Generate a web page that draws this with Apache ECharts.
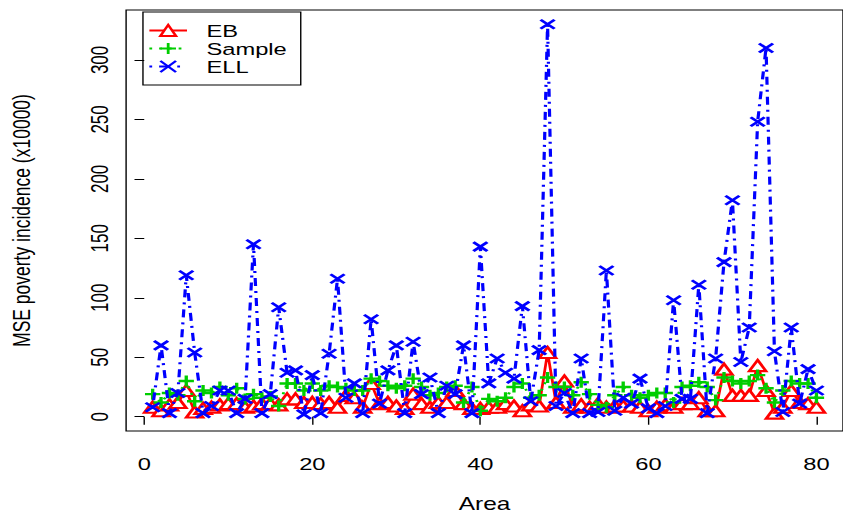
<!DOCTYPE html>
<html>
<head>
<meta charset="utf-8">
<script src="https://cdn.jsdelivr.net/npm/echarts@6/dist/echarts.min.js"></script>
<style>
html,body{margin:0;padding:0;background:#fff;overflow:hidden;width:843px;height:512px}
#c{width:605px;height:512px;transform:scaleX(1.3934);transform-origin:0 0}
</style>
</head>
<body>
<div id="c"></div>
<script>
var areas = [];
for (var a = 1; a <= 80; a++) areas.push(a);

var ebValues = [8,5,10,12,22,4,7,8,10,11,11,8,9,11,11,10,15,15,12,12,11,12,8,18,16,8,28,11,12,9,7,19,11,8,12,12,22,11,7,7,8,8,11,9,5,10,9,54,12,30,8,10,8,11,8,9,9,9,8,5,8,10,8,11,11,16,5,5,40,18,18,18,43,22,3,8,22,12,11,8];
var sampleValues = [19,12,20,18,30,13,22,20,25,18,24,15,19,16,17,9,28,28,22,28,22,26,25,24,22,22,32,30,26,24,26,32,25,18,20,25,26,12,25,5,15,13,16,25,28,16,18,33,25,25,18,29,19,10,8,18,25,18,16,18,20,20,12,25,26,29,25,14,33,30,28,30,35,24,12,22,30,28,28,16];
var ellValues = [8,60,3,20,119,54,3,9,22,22,3,15,145,3,19,92,37,39,2,35,3,53,116,16,28,3,82,11,39,60,3,63,19,33,3,26,19,60,3,143,28,49,37,32,93,13,56,330,9,20,3,49,3,4,123,5,16,11,32,7,3,9,98,15,15,111,3,49,130,182,46,75,248,310,55,4,75,11,40,22];

var xTicks = [0,20,40,60,80];
var yTicks = [0,50,100,150,200,250,300];

function pairs(vals){ return vals.map(function(v,i){ return [areas[i], v]; }); }

var FONT = 'Liberation Sans';
var chart = echarts.init(document.getElementById('c'), null, {renderer:'svg'});
var plusPath = 'path://M0,-10L0,10M-10,0L10,0';
var crossPath = 'path://M-10,-10L10,10M-10,10L10,-10';

chart.setOption({
  animation: false,
  backgroundColor: '#ffffff',
  grid: {left:90.5, right:0, top:10, bottom:81, show:true, borderColor:'#000', borderWidth:1,
         backgroundColor:'transparent', containLabel:false, outerBoundsMode:'none'},
  legend: {
    left: 102.6, top: 12, orient: 'vertical',
    borderColor: '#000', borderWidth: 1, borderRadius: 0,
    padding: [10, 10, 10, 3.6], itemGap: 1, itemWidth: 27, itemHeight: 14,
    textStyle: {fontFamily: FONT, fontSize: 17, color: '#000', padding:[0,0,0,9]},
    data: ['EB','Sample','ELL']
  },
  xAxis: {
    type:'value', min:-2.16, max:83.16,
    name:'Area', nameLocation:'middle', nameGap:64,
    nameTextStyle:{fontFamily:FONT, fontSize:17.5, color:'#000'},
    axisLine:{show:false},
    axisTick:{show:true, length:8, inside:false, customValues:xTicks, lineStyle:{color:'#000', width:1}},
    axisLabel:{customValues:xTicks, fontFamily:FONT, fontSize:17, color:'#000', margin:24},
    splitLine:{show:false}
  },
  yAxis: {
    type:'value', min:-12, max:342,
    name:'MSE poverty incidence (x10000)', nameLocation:'middle', nameGap:66, nameRotate:90,
    nameTextStyle:{fontFamily:FONT, fontSize:17.5, color:'#000'},
    axisLine:{show:false},
    axisTick:{show:true, length:7, inside:false, customValues:yTicks, lineStyle:{color:'#000', width:1}},
    axisLabel:{customValues:yTicks, fontFamily:FONT, fontSize:17, color:'#000', margin:19, rotate:90, verticalAlign:'middle', align:'center'},
    splitLine:{show:false}
  },
  series: [
    {
      name:'EB', type:'line', data:pairs(ebValues), z:3,
      symbol:'triangle', symbolSize:[12,11],
      lineStyle:{color:'#ff0000', width:2, type:'solid'},
      itemStyle:{color:'#ffffff', borderColor:'#ff0000', borderWidth:2.2}
    },
    {
      name:'Sample', type:'line', data:pairs(sampleValues), z:4,
      symbol:plusPath, symbolSize:11,
      lineStyle:{color:'#00cd00', width:2, type:[2,5]},
      itemStyle:{color:'none', borderColor:'#00cd00', borderWidth:2.4}
    },
    {
      name:'ELL', type:'line', data:pairs(ellValues), z:5,
      symbol:crossPath, symbolSize:[10,9],
      lineStyle:{color:'#0000ff', width:2.3, type:[2,5,8,5]},
      itemStyle:{color:'none', borderColor:'#0000ff', borderWidth:2.4}
    }
  ]
});
</script>
</body>
</html>
